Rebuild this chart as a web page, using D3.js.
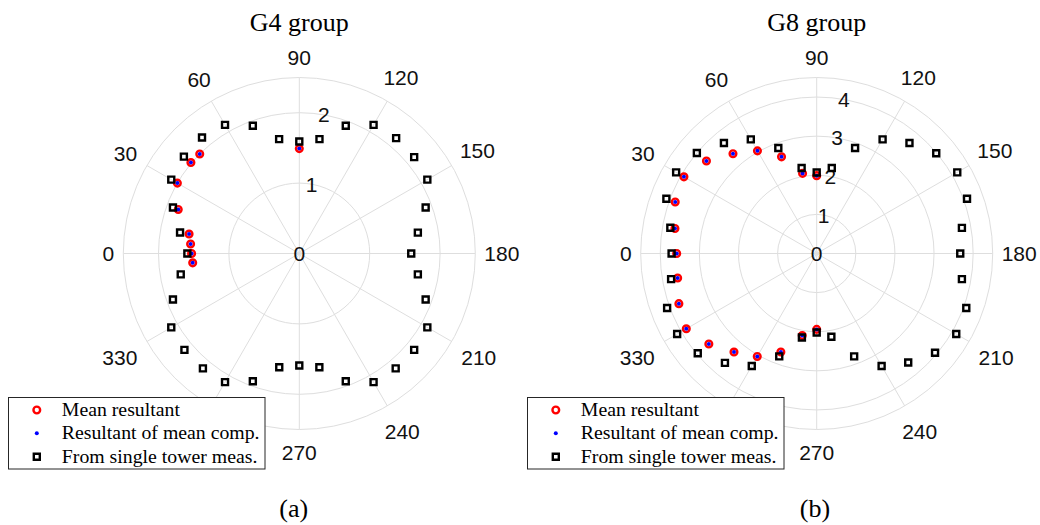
<!DOCTYPE html>
<html>
<head>
<meta charset="utf-8">
<script src="https://cdn.jsdelivr.net/npm/d3@7"></script>
<style>
  html, body { margin: 0; padding: 0; background: #fff; }
  svg { display: block; }
</style>
</head>
<body>
<svg id="fig" width="1040" height="525"></svg>
<script>
// ---- data -------------------------------------------------------------
// angular grid (degrees) and tower-measurement directions
const thetaTicks = [0, 30, 60, 90, 120, 150, 180, 210, 240, 270, 300, 330];
const towerAngles = [0, 10, 20, 30, 40, 50, 60, 70, 80, 90, 100, 110,
                     120, 130, 140, 150, 160, 170, 180, 190, 200, 210, 220, 230,
                     240, 250, 260, 270, 280, 290, 300, 310, 320, 330, 340, 350];

// G4 group
const rTicksG4 = [0, 1, 2];
const rMaxG4 = 2.5;
const towerG4 = [1.59, 1.72, 1.91, 2.10, 2.14, 2.15, 2.11, 1.93, 1.65,
                 1.59, 1.65, 1.93, 2.11, 2.14, 2.13, 2.10, 1.91, 1.71,
                 1.59, 1.71, 1.91, 2.10, 2.13, 2.13, 2.11, 1.93, 1.64,
                 1.59, 1.64, 1.93, 2.11, 2.13, 2.13, 2.10, 1.91, 1.71];
const meanAnglesG4 = [90, 45, 40, 30, 20, 10, 5, 0, 355];
const meanResultantG4 = [1.49, 2.00, 2.01, 2.00, 1.83, 1.59, 1.55, 1.53, 1.52];
const meanCompG4 = [1.49, 2.00, 2.01, 2.00, 1.83, 1.59, 1.55, 1.53, 1.52];

// G8 group
const rTicksG8 = [0, 1, 2, 3, 4];
const rMaxG8 = 4.5;
const towerG8 = [3.71, 3.80, 4.09, 4.15, 4.00, 3.69, 3.37, 2.87, 2.22,
                 2.07, 2.22, 2.87, 3.37, 3.69, 3.99, 4.15, 4.09, 3.77,
                 3.67, 3.77, 4.07, 4.12, 3.95, 3.64, 3.32, 2.80, 2.16,
                 2.02, 2.18, 2.80, 3.32, 3.65, 3.97, 4.12, 4.07, 3.78];
const meanAnglesG8 = [270, 280, 290, 300, 310, 320, 330, 340, 350,
                      0, 10, 20, 30, 40, 50, 60, 70, 80, 90];
const meanResultantG8 = [1.94, 2.13, 2.68, 3.04, 3.29, 3.60, 3.85, 3.75, 3.61,
                         3.58, 3.68, 3.85, 3.92, 3.68, 3.33, 3.03, 2.63, 2.08, 1.99];
const meanCompG8 = [1.94, 2.13, 2.68, 3.04, 3.29, 3.60, 3.85, 3.75, 3.61,
                    3.58, 3.68, 3.85, 3.92, 3.68, 3.33, 3.03, 2.63, 2.08, 1.99];

const panelTitles = ["G4 group", "G8 group"];
const panelTags = ["(a)", "(b)"];
const legendLabels = ["Mean resultant", "Resultant of mean comp.", "From single tower meas."];

// ---- drawing ----------------------------------------------------------
const svg = d3.select("#fig");
svg.append("rect").attr("width", 1040).attr("height", 525).attr("fill", "#fff");

const R = 176;                      // outer radius in px
const gridColor = "#dedede";
const labelColor = "#111";
const tickFont = "'Liberation Sans', Arial, Helvetica, sans-serif";
const serifFont = "'Liberation Serif', 'Times New Roman', serif";
const tickSize = 21;
const markerStroke = 2.4;

// legend box geometry (relative to its panel's legendX)
const legendTop = 397.5, legendW = 256.5, legendH = 71.5;

// theta = 0 at the left, increasing clockwise (90 at top, 180 at right)
const angle = d3.scaleLinear().domain([0, 360]).range([-Math.PI / 2, 1.5 * Math.PI]);

const panels = [
  { cx: 299.3, cy: 253.5, title: panelTitles[0], tag: panelTags[0], tagX: 293.8,
    rTicks: rTicksG4, rMax: rMaxG4, tower: towerG4,
    meanAngles: meanAnglesG4, meanRes: meanResultantG4, meanComp: meanCompG4,
    legendX: 8.5 },
  { cx: 816.7, cy: 253.5, title: panelTitles[1], tag: panelTags[1], tagX: 815,
    rTicks: rTicksG8, rMax: rMaxG8, tower: towerG8,
    meanAngles: meanAnglesG8, meanRes: meanResultantG8, meanComp: meanCompG8,
    legendX: 527.5 }
];

const squareSym = d3.symbol(d3.symbolSquare, 36);

panels.forEach(p => {
  const g = svg.append("g");
  const r = d3.scaleLinear().domain([0, p.rMax]).range([0, R]);
  const pt = (t, v) => {
    const [x, y] = d3.pointRadial(angle(t), r(v));
    return [p.cx + x, p.cy + y];
  };

  // rings at each radial tick plus the outer boundary
  const ringVals = p.rTicks.filter(v => v > 0).concat([p.rMax]);
  g.selectAll("circle.ring").data(ringVals).join("circle")
    .attr("class", "ring")
    .attr("cx", p.cx).attr("cy", p.cy).attr("r", d => r(d))
    .attr("fill", "none").attr("stroke", gridColor).attr("stroke-width", 1);

  // spokes
  g.selectAll("line.spoke").data(thetaTicks).join("line")
    .attr("class", "spoke")
    .attr("x1", p.cx).attr("y1", p.cy)
    .attr("x2", d => pt(d, p.rMax)[0]).attr("y2", d => pt(d, p.rMax)[1])
    .attr("stroke", gridColor).attr("stroke-width", 1);

  // angular tick labels, pushed out by their extent in the label direction;
  // a label that would sit under the legend box is left out
  const tl = g.selectAll("text.tlab").data(thetaTicks).join("text")
    .attr("class", "tlab")
    .attr("font-family", tickFont).attr("font-size", tickSize)
    .attr("fill", labelColor).attr("text-anchor", "middle")
    .text(d => String(d));
  tl.each(function (d) {
    const w = this.getComputedTextLength();
    const [ux, uy] = d3.pointRadial(angle(d), 1);
    const hw = w / 2, hh = 0.358 * tickSize;
    const gap = 9 + 3.5 * Math.abs(uy) + (uy > 0 ? 3 * uy : 0);
    const dist = R + gap + hw * Math.abs(ux) + hh * Math.abs(uy);
    const x = p.cx + ux * dist, y = p.cy + uy * dist;
    const hidden = x + hw > p.legendX && x - hw < p.legendX + legendW &&
                   y + hh > legendTop && y - hh < legendTop + legendH;
    if (hidden) { d3.select(this).remove(); return; }
    d3.select(this).attr("x", x).attr("y", y + hh);
  });

  // radial tick labels along the 100 degree direction
  g.selectAll("text.rlab").data(p.rTicks).join("text")
    .attr("class", "rlab")
    .attr("font-family", tickFont).attr("font-size", tickSize)
    .attr("fill", labelColor).attr("text-anchor", "middle")
    .attr("x", d => pt(100, d)[0])
    .attr("y", d => pt(100, d)[1] + 0.358 * tickSize)
    .text(d => String(d));

  // series: mean resultant (red rings), resultant of mean comp. (blue dots),
  // single tower measurements (black squares)
  const meanPts = p.meanAngles.map((t, i) => pt(t, p.meanRes[i]));
  g.selectAll("circle.mres").data(meanPts).join("circle")
    .attr("class", "mres")
    .attr("cx", d => d[0]).attr("cy", d => d[1]).attr("r", 3.35)
    .attr("fill", "none").attr("stroke", "#ff0000").attr("stroke-width", markerStroke);

  const compPts = p.meanAngles.map((t, i) => pt(t, p.meanComp[i]));
  g.selectAll("circle.mcomp").data(compPts).join("circle")
    .attr("class", "mcomp")
    .attr("cx", d => d[0]).attr("cy", d => d[1]).attr("r", 2)
    .attr("fill", "#0000ff");

  const towerPts = towerAngles.map((t, i) => pt(t, p.tower[i]));
  g.selectAll("path.tower").data(towerPts).join("path")
    .attr("class", "tower")
    .attr("d", squareSym)
    .attr("transform", d => `translate(${d[0]},${d[1]})`)
    .attr("fill", "none").attr("stroke", "#000").attr("stroke-width", markerStroke);

  // title and panel tag
  g.append("text")
    .attr("x", p.cx).attr("y", 30.7)
    .attr("text-anchor", "middle")
    .attr("font-family", serifFont).attr("font-size", 26)
    .attr("fill", "#000")
    .text(p.title);
  g.append("text")
    .attr("x", p.tagX).attr("y", 516.5)
    .attr("text-anchor", "middle")
    .attr("font-family", serifFont).attr("font-size", 26)
    .attr("fill", "#000")
    .text(p.tag);

  // legend
  const lg = g.append("g").attr("transform", `translate(${p.legendX},${legendTop})`);
  lg.append("rect")
    .attr("width", legendW).attr("height", legendH)
    .attr("fill", "#fff").attr("stroke", "#262626").attr("stroke-width", 1);
  const rowY = [12.5, 35.8, 59.2];
  legendLabels.forEach((lab, i) => {
    const y = rowY[i];
    if (i === 0) {
      lg.append("circle").attr("cx", 28.3).attr("cy", y).attr("r", 3.35)
        .attr("fill", "none").attr("stroke", "#ff0000").attr("stroke-width", markerStroke);
    } else if (i === 1) {
      lg.append("circle").attr("cx", 28.3).attr("cy", y).attr("r", 2)
        .attr("fill", "#0000ff");
    } else {
      lg.append("path").attr("d", squareSym)
        .attr("transform", `translate(28.3,${y})`)
        .attr("fill", "none").attr("stroke", "#000").attr("stroke-width", markerStroke);
    }
    lg.append("text")
      .attr("x", 53.3).attr("y", y + 6)
      .attr("font-family", serifFont).attr("font-size", 19.8)
      .attr("fill", "#000")
      .text(lab);
  });
});
</script>
</body>
</html>
